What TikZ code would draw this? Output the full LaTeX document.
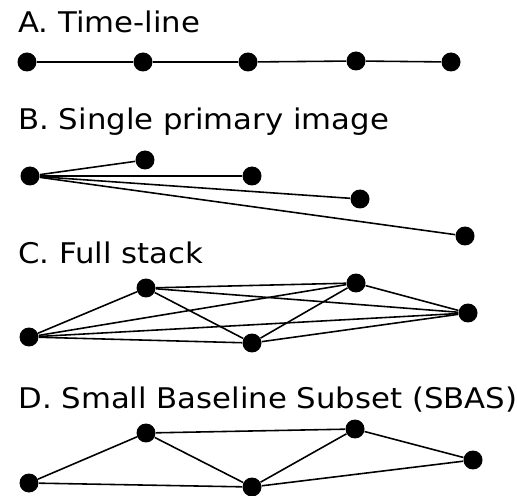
\documentclass[tikz,border=0pt]{standalone}
\usepackage{fontspec}
\setmainfont[FakeStretch=1.08]{DejaVu Sans}
\usepackage{tikz}
\usetikzlibrary{positioning}
\tikzset{
    dot/.style={circle,fill=black,inner sep=0pt,minimum size=0.38cm},
    title/.style={anchor=base west,inner sep=0pt,font=\fontsize{16.2}{19}\selectfont},
    edge/.style={line width=0.9pt},
}

\begin{document}
\begin{tikzpicture}[x=0.02cm,y=-0.02cm]
    \useasboundingbox (0,0) rectangle (517,496);
    % A: one line through all dates
    \node[title] (ta) at (18,33) {A. Time-line};
    \node[dot] (a1) at (27,62) {};
    \node[dot] (a2) at (143,62) {};
    \node[dot] (a3) at (248,62) {};
    \node[dot] (a4) at (356,61) {};
    \node[dot] (a5) at (451,62) {};
    \draw[edge] (a1) -- (a2) -- (a3) -- (a4) -- (a5);
    % B: everything paired with the first date
    \node[title] (tb) at (18,130) {B. Single primary image};
    \node[dot] (b1) at (30,176) {};
    \node[dot] (b2) at (145,160) {};
    \node[dot] (b3) at (252,176) {};
    \node[dot] (b4) at (360,199) {};
    \node[dot] (b5) at (465,236) {};
    \foreach \j in {2,...,5}
        \draw[edge] (b1) -- (b\j);
    % C: every pair
    \node[title] (tc) at (18,264) {C. Full stack};
    \node[dot] (c1) at (29,337) {};
    \node[dot] (c2) at (146,288) {};
    \node[dot] (c3) at (252,343) {};
    \node[dot] (c4) at (356,283) {};
    \node[dot] (c5) at (468,313) {};
    \foreach \i/\j in {1/2,1/3,1/4,1/5,2/3,2/4,2/5,3/4,3/5,4/5}
        \draw[edge] (c\i) -- (c\j);
    % D: short baselines only
    \node[title] (td) at (18,408) {D. Small Baseline Subset (SBAS)};
    \node[dot] (d1) at (29,483) {};
    \node[dot] (d2) at (146,433) {};
    \node[dot] (d3) at (252,487) {};
    \node[dot] (d4) at (355,429) {};
    \node[dot] (d5) at (473,460) {};
    \foreach \i/\j in {1/2,1/3,2/3,2/4,3/4,4/5,3/5}
        \draw[edge] (d\i) -- (d\j);
\end{tikzpicture}
\end{document}
